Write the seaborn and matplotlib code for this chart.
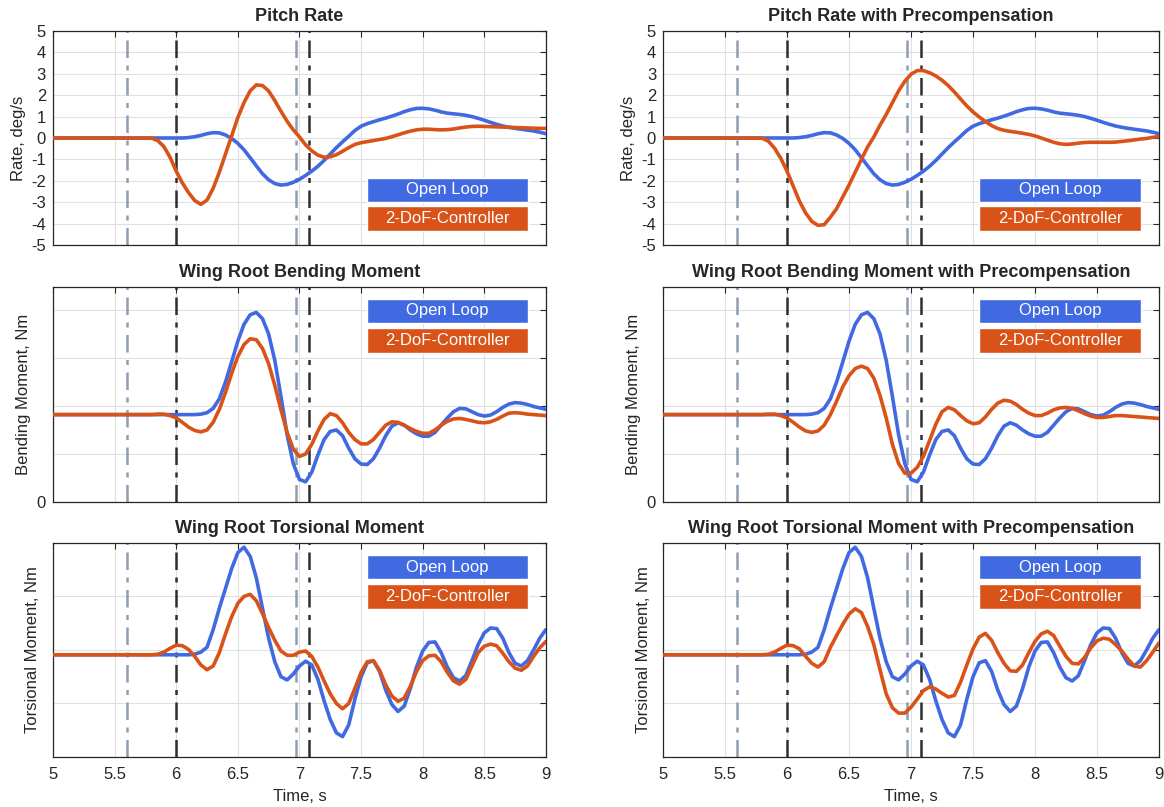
import numpy as np
import pandas as pd
import matplotlib
matplotlib.use('Agg')
import matplotlib.pyplot as plt
from matplotlib.patches import Rectangle
import seaborn as sns

# time base (s): start value then 0.05 s steps through the manoeuvre
time = [5.0] + [round(v, 2) for v in np.arange(5.80, 9.001, 0.05)]

# pitch rate, deg/s
pitch_open = [0.0,
    0, 0, 0, 0, 0, 0, 0.02, 0.06, 0.12, 0.2,
    0.25, 0.24, 0.14, -0.02, -0.25, -0.55, -0.92, -1.3, -1.67, -1.95,
    -2.13, -2.2, -2.17, -2.07, -1.93, -1.75, -1.55, -1.32, -1.05, -0.75,
    -0.45, -0.18, 0.08, 0.35, 0.55, 0.67, 0.76, 0.85, 0.93, 1.02,
    1.12, 1.23, 1.32, 1.38, 1.39, 1.36, 1.3, 1.22, 1.16, 1.13,
    1.1, 1.06, 1.0, 0.92, 0.83, 0.73, 0.64, 0.56, 0.5, 0.45,
    0.41, 0.37, 0.33, 0.27, 0.2]
pitch_ctrl = [0.0,
    -0.01, -0.12, -0.4, -0.9, -1.55, -2.1, -2.55, -2.92, -3.1, -2.9,
    -2.35, -1.6, -0.75, 0.1, 0.95, 1.65, 2.2, 2.48, 2.45, 2.2,
    1.75, 1.25, 0.78, 0.38, 0.05, -0.32, -0.6, -0.8, -0.9, -0.88,
    -0.78, -0.62, -0.45, -0.3, -0.22, -0.17, -0.12, -0.07, -0.02, 0.06,
    0.15, 0.24, 0.32, 0.38, 0.41, 0.41, 0.39, 0.38, 0.39, 0.42,
    0.47, 0.51, 0.54, 0.55, 0.54, 0.53, 0.52, 0.51, 0.5, 0.49,
    0.48, 0.47, 0.46, 0.45, 0.45]
pitch_ctrl_pre = [0.0,
    -0.01, -0.15, -0.48, -0.95, -1.55, -2.25, -2.95, -3.5, -3.9, -4.08,
    -4.05, -3.7, -3.3, -2.75, -2.2, -1.6, -1.0, -0.42, 0.05, 0.6,
    1.1, 1.65, 2.2, 2.65, 2.98, 3.15, 3.15, 3.05, 2.9, 2.7,
    2.45, 2.15, 1.82, 1.5, 1.22, 0.98, 0.77, 0.58, 0.44, 0.36,
    0.31, 0.27, 0.22, 0.17, 0.1, 0.0, -0.1, -0.2, -0.27, -0.3,
    -0.28, -0.24, -0.21, -0.2, -0.2, -0.2, -0.2, -0.19, -0.16, -0.13,
    -0.09, -0.05, -0.02, 0.03, 0.07]

# wing root bending moment (unlabelled scale)
bend_open = [1.82,
    1.82, 1.82, 1.82, 1.82, 1.82, 1.82, 1.82, 1.82, 1.83, 1.86,
    1.95, 2.15, 2.5, 2.92, 3.35, 3.7, 3.9, 3.95, 3.82, 3.5,
    2.95, 2.2, 1.4, 0.8, 0.47, 0.42, 0.62, 0.98, 1.3, 1.47,
    1.5, 1.38, 1.12, 0.9, 0.79, 0.78, 0.9, 1.12, 1.38, 1.58,
    1.65, 1.6, 1.5, 1.42, 1.37, 1.37, 1.45, 1.6, 1.75, 1.88,
    1.95, 1.94, 1.88, 1.82, 1.79, 1.81, 1.88, 1.97, 2.04, 2.07,
    2.06, 2.03, 1.99, 1.96, 1.93]
bend_ctrl = [1.82,
    1.82, 1.83, 1.83, 1.8, 1.75, 1.66, 1.56, 1.49, 1.46, 1.5,
    1.66, 1.93, 2.28, 2.68, 3.03, 3.28, 3.4, 3.38, 3.2, 2.88,
    2.43, 1.92, 1.45, 1.1, 0.95, 1.0, 1.2, 1.48, 1.72, 1.84,
    1.8, 1.65, 1.45, 1.3, 1.21, 1.21, 1.3, 1.45, 1.6, 1.67,
    1.66, 1.6, 1.53, 1.47, 1.43, 1.43, 1.5, 1.6, 1.68, 1.73,
    1.74, 1.72, 1.69, 1.66, 1.65, 1.67, 1.72, 1.79, 1.85, 1.86,
    1.85, 1.83, 1.82, 1.81, 1.8]
bend_ctrl_pre = [1.82,
    1.82, 1.83, 1.83, 1.8, 1.75, 1.66, 1.56, 1.48, 1.45, 1.48,
    1.6, 1.82, 2.1, 2.4, 2.63, 2.78, 2.83, 2.78, 2.58, 2.22,
    1.75, 1.2, 0.8, 0.6, 0.6, 0.72, 0.95, 1.28, 1.62, 1.88,
    1.97, 1.92, 1.8, 1.69, 1.63, 1.65, 1.77, 1.93, 2.06, 2.12,
    2.1, 2.03, 1.93, 1.85, 1.8, 1.8, 1.85, 1.92, 1.96, 1.97,
    1.95, 1.9, 1.84, 1.79, 1.76, 1.76, 1.78, 1.8, 1.8, 1.79,
    1.78, 1.77, 1.76, 1.75, 1.74]

# wing root torsional moment (unlabelled scale)
tors_open = [-0.09,
    -0.09, -0.09, -0.09, -0.09, -0.09, -0.09, -0.09, -0.08, -0.04, 0.05,
    0.38, 0.78, 1.15, 1.52, 1.82, 1.92, 1.75, 1.35, 0.78, 0.22,
    -0.22, -0.5, -0.56, -0.45, -0.3, -0.21, -0.28, -0.55, -0.95, -1.3,
    -1.55, -1.62, -1.4, -0.92, -0.5, -0.24, -0.2, -0.4, -0.75, -1.02,
    -1.15, -1.05, -0.72, -0.32, -0.02, 0.14, 0.15, -0.05, -0.32, -0.52,
    -0.58, -0.48, -0.2, 0.1, 0.32, 0.41, 0.4, 0.22, -0.05, -0.25,
    -0.3, -0.2, 0.0, 0.22, 0.38]
tors_ctrl = [-0.09,
    -0.09, -0.08, -0.04, 0.03, 0.09, 0.08, 0.01, -0.12, -0.28, -0.37,
    -0.3, -0.05, 0.3, 0.62, 0.87, 1.0, 1.04, 0.92, 0.68, 0.42,
    0.18, -0.02, -0.1, -0.1, -0.04, -0.02, -0.12, -0.32, -0.58, -0.82,
    -1.0, -1.1, -1.0, -0.72, -0.42, -0.22, -0.2, -0.38, -0.65, -0.86,
    -0.96, -0.9, -0.68, -0.4, -0.2, -0.11, -0.1, -0.22, -0.42, -0.58,
    -0.64, -0.55, -0.3, -0.05, 0.07, 0.11, 0.08, -0.06, -0.22, -0.34,
    -0.38, -0.3, -0.12, 0.04, 0.16]
tors_ctrl_pre = [-0.09,
    -0.09, -0.08, -0.04, 0.03, 0.09, 0.08, 0.02, -0.12, -0.25, -0.32,
    -0.22, 0.05, 0.27, 0.48, 0.67, 0.77, 0.7, 0.44, 0.1, -0.37,
    -0.82, -1.08, -1.18, -1.18, -1.07, -0.92, -0.76, -0.69, -0.73, -0.81,
    -0.88, -0.85, -0.6, -0.28, 0.02, 0.24, 0.31, 0.18, -0.05, -0.25,
    -0.39, -0.4, -0.28, -0.05, 0.16, 0.3, 0.35, 0.27, 0.07, -0.12,
    -0.25, -0.26, -0.14, 0.04, 0.17, 0.22, 0.2, 0.1, -0.02, -0.17,
    -0.3, -0.32, -0.2, -0.04, 0.13]

series_names = ['Open Loop', '2-DoF-Controller']
series_colors = ['#4169E1', '#D95319']
marker_grey = [5.6, 6.97]
marker_dark = [6.0, 7.08]
xticks = [5, 5.5, 6, 6.5, 7, 7.5, 8, 8.5, 9]
xticklabels = ['5', '5.5', '6', '6.5', '7', '7.5', '8', '8.5', '9']

rows = [
    dict(titles=['Pitch Rate', 'Pitch Rate with Precompensation'],
         ylabel='Rate, deg/s', open=pitch_open, ctrl=[pitch_ctrl, pitch_ctrl_pre],
         ylim=(-5, 5), yticks=list(range(-5, 6)),
         yticklabels=[str(v) for v in range(-5, 6)], box_y=[0.201, 0.067]),
    dict(titles=['Wing Root Bending Moment', 'Wing Root Bending Moment with Precompensation'],
         ylabel='Bending Moment, Nm', open=bend_open, ctrl=[bend_ctrl, bend_ctrl_pre],
         ylim=(0, 4.48), yticks=[0, 1, 2, 3, 4],
         yticklabels=['0', '', '', '', ''], box_y=[0.833, 0.695]),
    dict(titles=['Wing Root Torsional Moment', 'Wing Root Torsional Moment with Precompensation'],
         ylabel='Torsional Moment, Nm', open=tors_open, ctrl=[tors_ctrl, tors_ctrl_pre],
         ylim=(-2, 2), yticks=[-2, -1, 0, 1, 2],
         yticklabels=['', '', '', '', ''], box_y=[0.831, 0.693]),
]

sns.set_theme(style='whitegrid')
plt.rcParams['font.family'] = ['Liberation Sans', 'DejaVu Sans']

fig = plt.figure(figsize=(11.64, 8.07), dpi=100)
col_pos = [(0.0455, 0.4235), (0.5696, 0.4261)]
row_pos = [(0.6964, 0.2652), (0.378, 0.2664), (0.062, 0.2652)]

for r, spec in enumerate(rows):
    for c in range(2):
        ax = fig.add_axes([col_pos[c][0], row_pos[r][0], col_pos[c][1], row_pos[r][1]])
        ax.set_facecolor('white')

        for xv in marker_grey:
            ax.axvline(xv, color='#8E9DB2', lw=1.8, ls=(0, (7, 3, 2, 3)), zorder=1)
        for xv in marker_dark:
            ax.axvline(xv, color='#2E2E2E', lw=1.8, ls=(0, (7, 3, 2, 3)), zorder=1)

        n = len(time)
        df = pd.DataFrame({
            'Time, s': time * 2,
            'value': spec['open'] + spec['ctrl'][c],
            'series': [series_names[0]] * n + [series_names[1]] * n,
        })
        sns.lineplot(data=df, x='Time, s', y='value', hue='series',
                     hue_order=series_names, palette=series_colors,
                     estimator=None, lw=2.6, legend=False, ax=ax, zorder=3)

        ax.set_xlim(5, 9)
        ax.set_ylim(*spec['ylim'])
        ax.set_xticks(xticks)
        ax.set_yticks(spec['yticks'])
        ax.set_yticklabels(spec['yticklabels'])
        if r == 2:
            ax.set_xticklabels(xticklabels)
            ax.set_xlabel('Time, s', fontsize=12, color='#262626', labelpad=5)
        else:
            ax.set_xticklabels([])
            ax.set_xlabel('')
        ax.set_ylabel(spec['ylabel'], fontsize=12, color='#262626', labelpad=4)
        ax.set_title(spec['titles'][c], fontsize=13, fontweight='bold', pad=7)

        ax.grid(True, color='#E0E0E0', lw=0.8)
        ax.tick_params(direction='in', length=4, width=0.8, top=True, right=True,
                       labelsize=12, colors='#262626')
        ax.tick_params(axis='x', pad=7)
        ax.tick_params(axis='y', pad=5)
        for sp in ax.spines.values():
            sp.set_visible(True)
            sp.set_color('#262626')
            sp.set_linewidth(0.9)

        # coloured legend boxes
        for name, color, yb in zip(series_names, series_colors, spec['box_y']):
            ax.add_patch(Rectangle((0.638, yb), 0.325, 0.113, transform=ax.transAxes,
                                   facecolor=color, edgecolor='white', lw=1, zorder=5))
            ax.text(0.638 + 0.1625, yb + 0.0565, name, transform=ax.transAxes,
                    ha='center', va='center', color='white', fontsize=12, zorder=6)

fig.savefig('out.png', dpi=100)
